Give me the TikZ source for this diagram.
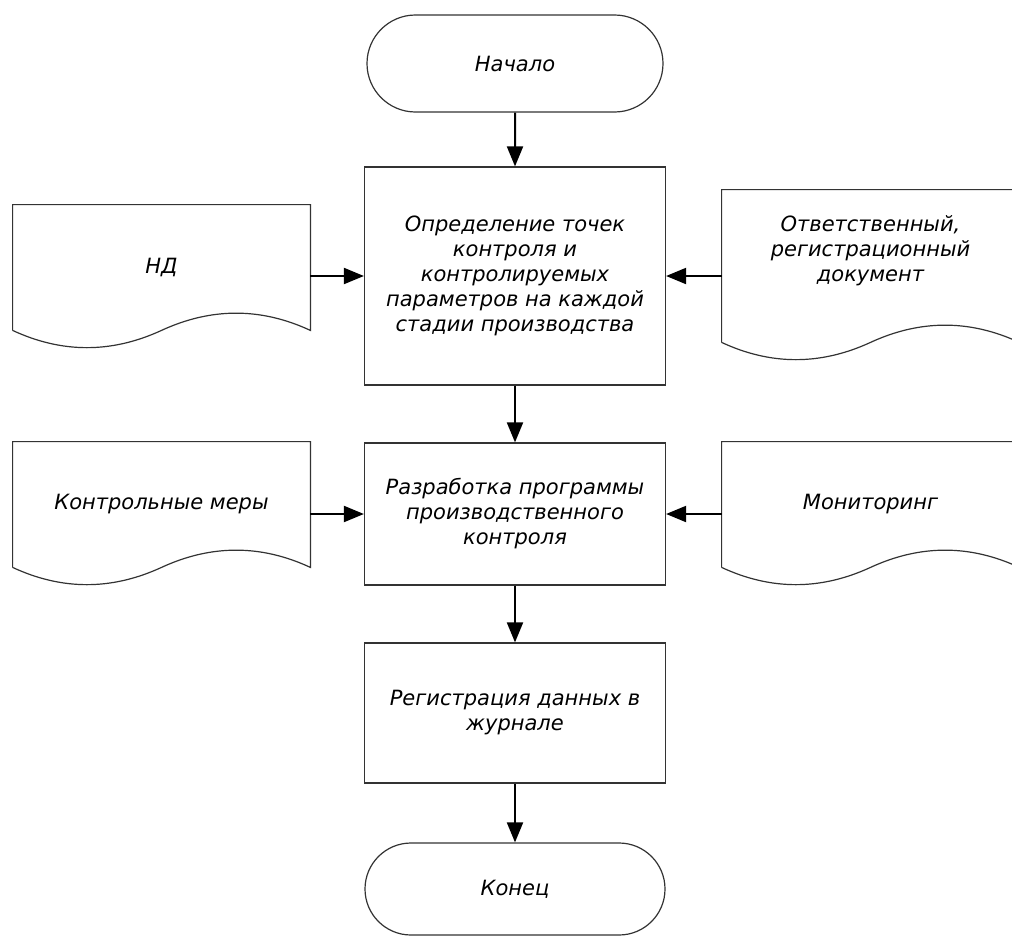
\documentclass[tikz,border=0pt]{standalone}
\usepackage{fontspec}
\setmainfont{DejaVu Sans}
\usepackage{tikz}
\usetikzlibrary{shapes.misc,arrows.meta,calc}
\tikzset{>={Triangle[length=10pt,width=8pt]}}

% outline of a document block: straight top and sides, wavy bottom
\newcommand{\docoutline}[1]{%
  \draw[docline] (#1.south west) -- (#1.north west) -- (#1.north east) -- (#1.south east)
    .. controls ($(#1.south east)+(-49.5,-23)$) and ($(#1.south east)+(-99,-23)$) .. ($(#1.south west)!0.5!(#1.south east)$)
    .. controls ($(#1.south west)+(99,23)$) and ($(#1.south west)+(49.5,23)$) .. (#1.south west);}

\begin{document}
\begin{tikzpicture}[x=0.5pt,y=-0.5pt,
                    every node/.style={font=\fontsize{10.5}{12.5}\selectfont\itshape, align=center},
                    startstop/.style={rounded rectangle, draw=black!80, line width=0.6pt, minimum width=148pt, inner sep=0pt},
                    process/.style={rectangle, draw=black!80, line width=0.6pt, minimum width=150.5pt, inner sep=0pt},
                    docnode/.style={rectangle, minimum width=148.5pt, inner sep=0pt},
                    docline/.style={black!80, line width=0.6pt},
                    flow/.style={->, line width=1pt, black},
                   ]

\clip (0,0) rectangle (1012,937);

% main column
\node[startstop, minimum height=48.5pt] (start) at (515,63.5) {Начало};
\node[process, minimum height=109pt] (points) at (515,276)
  {Определение точек\\ контроля и\\ контролируемых\\ параметров на каждой\\ стадии производства};
\node[process, minimum height=71pt] (program) at (515,514)
  {Разработка программы\\ производственного\\ контроля};
\node[process, minimum height=70pt] (journal) at (515,713)
  {Регистрация данных в\\ журнале};
\node[startstop, minimum height=46pt, minimum width=150pt] (finish) at (515,889) {Конец};

% documents
\node[docnode, minimum height=62.5pt] (nd) at (161.5,267.5) {НД};
\node[docnode, minimum height=76pt] (resp) at (870.5,266)
  {Ответственный,\\ регистрационный\\ документ\\[4.5pt]};
\node[docnode, minimum height=62.5pt] (measures) at (161.5,504.5) {Контрольные меры};
\node[docnode, minimum height=62.5pt] (monitor) at (870.5,504.5) {Мониторинг};

\docoutline{nd}
\docoutline{resp}
\docoutline{measures}
\docoutline{monitor}

% connectors
\draw[flow] (start) -- (points);
\draw[flow] (points) -- (program);
\draw[flow] (program) -- (journal);
\draw[flow] (journal) -- (finish);

\draw[flow] (nd.east |- points) -- (points);
\draw[flow] (resp.west |- points) -- (points);
\draw[flow] (measures.east |- program) -- (program);
\draw[flow] (monitor.west |- program) -- (program);

\end{tikzpicture}
\end{document}
